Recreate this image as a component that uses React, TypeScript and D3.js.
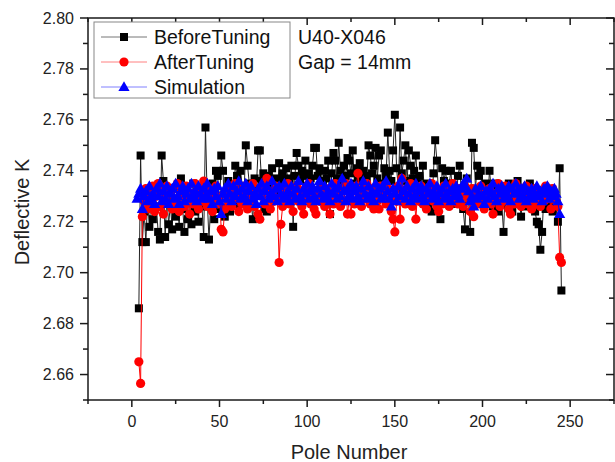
import React from "react";
import * as d3 from "d3";

const beforeStart = 4;
const beforeTuning = [
  2.686, 2.746, 2.712, 2.724, 2.712, 2.729, 2.718, 2.731, 2.721, 2.733,
  2.726, 2.716, 2.713, 2.746, 2.736, 2.714, 2.730, 2.719, 2.727, 2.717,
  2.733, 2.722, 2.729, 2.718, 2.737, 2.725, 2.716, 2.731, 2.721, 2.728,
  2.719, 2.735, 2.724, 2.730, 2.720, 2.733, 2.726, 2.714, 2.757, 2.729,
  2.713, 2.727, 2.735, 2.721, 2.740, 2.738, 2.725, 2.746, 2.740, 2.722,
  2.731, 2.736, 2.724, 2.733, 2.729, 2.742, 2.738, 2.727, 2.740, 2.734,
  2.731, 2.750, 2.742, 2.735, 2.728, 2.721, 2.737, 2.733, 2.748, 2.748,
  2.736, 2.739, 2.725, 2.724, 2.738, 2.735, 2.741, 2.733, 2.737, 2.731,
  2.743, 2.736, 2.739, 2.734, 2.741, 2.737, 2.735, 2.742, 2.718, 2.738,
  2.747, 2.742, 2.736, 2.740, 2.738, 2.744, 2.734, 2.739, 2.737, 2.742,
  2.749, 2.749, 2.738, 2.741, 2.736, 2.735, 2.740, 2.737, 2.744, 2.723,
  2.739, 2.747, 2.744, 2.737, 2.751, 2.740, 2.736, 2.742, 2.738, 2.745,
  2.744, 2.739, 2.748, 2.735, 2.741, 2.737, 2.743, 2.734, 2.740, 2.738,
  2.736, 2.750, 2.746, 2.739, 2.742, 2.749, 2.737, 2.746, 2.748, 2.735,
  2.741, 2.738, 2.755, 2.740, 2.736, 2.748, 2.762, 2.741, 2.733, 2.757,
  2.739, 2.744, 2.750, 2.736, 2.748, 2.742, 2.737, 2.740, 2.746, 2.735,
  2.738, 2.731, 2.742, 2.729, 2.735, 2.727, 2.733, 2.724, 2.739, 2.752,
  2.744, 2.729, 2.721, 2.741, 2.736, 2.740, 2.731, 2.735, 2.740, 2.728,
  2.733, 2.727, 2.738, 2.742, 2.731, 2.725, 2.717, 2.737, 2.729, 2.716,
  2.751, 2.749, 2.733, 2.742, 2.738, 2.740, 2.731, 2.727, 2.735, 2.729,
  2.740, 2.733, 2.726, 2.735, 2.729, 2.724, 2.731, 2.727, 2.716, 2.733,
  2.728, 2.735, 2.730, 2.724, 2.732, 2.727, 2.736, 2.729, 2.722, 2.731,
  2.726, 2.733, 2.729, 2.735, 2.727, 2.732, 2.724, 2.720, 2.719, 2.709,
  2.716, 2.730, 2.725, 2.733, 2.727, 2.731, 2.724, 2.729, 2.726, 2.720, 2.741, 2.693,
];

const afterStart = 4;
const afterTuning = [
  2.665, 2.6565, 2.722, 2.728, 2.733, 2.725, 2.731, 2.727, 2.734, 2.724,
  2.730, 2.735, 2.726, 2.732, 2.723, 2.729, 2.734, 2.727, 2.731, 2.725,
  2.733, 2.728, 2.735, 2.724, 2.730, 2.732, 2.726, 2.734, 2.729, 2.723,
  2.731, 2.727, 2.735, 2.730, 2.725, 2.733, 2.728, 2.736, 2.731, 2.726,
  2.733, 2.729, 2.724, 2.731, 2.734, 2.727, 2.730, 2.717, 2.716, 2.725,
  2.732, 2.728, 2.734, 2.726, 2.731, 2.735, 2.729, 2.724, 2.732, 2.727,
  2.734, 2.730, 2.725, 2.733, 2.728, 2.735, 2.726, 2.731, 2.723, 2.721,
  2.730, 2.734, 2.727, 2.737, 2.732, 2.725, 2.731, 2.728, 2.734, 2.729,
  2.704, 2.719, 2.726, 2.733, 2.729, 2.735, 2.727, 2.731, 2.724, 2.730,
  2.734, 2.728, 2.732, 2.726, 2.723, 2.733, 2.729, 2.735, 2.727, 2.731,
  2.725, 2.723, 2.732, 2.728, 2.734, 2.730, 2.726, 2.733, 2.729, 2.723,
  2.731, 2.727, 2.735, 2.730, 2.733, 2.726, 2.732, 2.728, 2.735, 2.723,
  2.729, 2.723, 2.732, 2.727, 2.734, 2.739, 2.731, 2.726, 2.733, 2.729,
  2.735, 2.730, 2.727, 2.733, 2.725, 2.731, 2.728, 2.725, 2.734, 2.730,
  2.732, 2.727, 2.733, 2.729, 2.724, 2.721, 2.716, 2.728, 2.734, 2.721,
  2.737, 2.731, 2.727, 2.733, 2.729, 2.735, 2.726, 2.730, 2.721, 2.732,
  2.728, 2.734, 2.727, 2.731, 2.725, 2.733, 2.729, 2.735, 2.728, 2.732,
  2.726, 2.724, 2.731, 2.727, 2.734, 2.729, 2.733, 2.726, 2.730, 2.735,
  2.728, 2.732, 2.727, 2.733, 2.730, 2.726, 2.734, 2.732, 2.729, 2.724,
  2.733, 2.722, 2.729, 2.731, 2.727, 2.734, 2.730, 2.725, 2.732, 2.728,
  2.733, 2.727, 2.723, 2.731, 2.729, 2.735, 2.726, 2.732, 2.728, 2.734,
  2.730, 2.725, 2.723, 2.731, 2.727, 2.735, 2.729, 2.733, 2.726, 2.731,
  2.728, 2.734, 2.727, 2.732, 2.725, 2.730, 2.733, 2.727, 2.731, 2.726,
  2.732, 2.728, 2.734, 2.729, 2.731, 2.725, 2.733, 2.730, 2.728, 2.726, 2.706, 2.704,
];

const simStart = 3;
const simulation = [
  2.729, 2.731, 2.733, 2.725, 2.730, 2.732, 2.728, 2.734, 2.729, 2.731,
  2.727, 2.733, 2.730, 2.735, 2.728, 2.732, 2.729, 2.734, 2.727, 2.731,
  2.733, 2.729, 2.735, 2.730, 2.727, 2.732, 2.734, 2.728, 2.731, 2.733,
  2.729, 2.735, 2.730, 2.732, 2.728, 2.734, 2.731, 2.729, 2.733, 2.730,
  2.735, 2.729, 2.732, 2.727, 2.733, 2.730, 2.734, 2.728, 2.723, 2.731,
  2.733, 2.729, 2.735, 2.731, 2.728, 2.734, 2.730, 2.732, 2.736, 2.729,
  2.733, 2.730, 2.735, 2.728, 2.732, 2.734, 2.729, 2.731, 2.727, 2.733,
  2.730, 2.735, 2.728, 2.732, 2.734, 2.729, 2.731, 2.736, 2.730, 2.733,
  2.728, 2.734, 2.731, 2.729, 2.735, 2.730, 2.732, 2.728, 2.734, 2.731,
  2.729, 2.733, 2.736, 2.730, 2.728, 2.733, 2.731, 2.735, 2.729, 2.732,
  2.734, 2.730, 2.728, 2.733, 2.736, 2.731, 2.729, 2.734, 2.730, 2.732,
  2.728, 2.735, 2.731, 2.733, 2.729, 2.734, 2.730, 2.737, 2.732, 2.728,
  2.733, 2.730, 2.735, 2.729, 2.732, 2.734, 2.730, 2.728, 2.733, 2.736,
  2.731, 2.729, 2.734, 2.730, 2.732, 2.728, 2.735, 2.731, 2.733, 2.729,
  2.734, 2.730, 2.736, 2.732, 2.729, 2.726, 2.733, 2.731, 2.728, 2.734,
  2.730, 2.737, 2.732, 2.729, 2.734, 2.731, 2.728, 2.733, 2.730, 2.735,
  2.729, 2.732, 2.734, 2.730, 2.728, 2.733, 2.731, 2.735, 2.729, 2.732,
  2.730, 2.734, 2.728, 2.731, 2.733, 2.729, 2.735, 2.730, 2.732, 2.728,
  2.733, 2.730, 2.734, 2.731, 2.729, 2.733, 2.735, 2.734, 2.737, 2.732,
  2.728, 2.730, 2.726, 2.733, 2.729, 2.731, 2.734, 2.730, 2.727, 2.732,
  2.729, 2.733, 2.731, 2.735, 2.730, 2.728, 2.733, 2.731, 2.734, 2.729,
  2.732, 2.730, 2.734, 2.728, 2.733, 2.731, 2.735, 2.732, 2.729, 2.733,
  2.730, 2.734, 2.728, 2.732, 2.730, 2.733, 2.729, 2.731, 2.734, 2.730,
  2.732, 2.728, 2.733, 2.731, 2.734, 2.729, 2.732, 2.730, 2.733, 2.731, 2.728, 2.723,
];

const xMajorTicks = [0, 50, 100, 150, 200, 250];
const xMinorTicks = [-25, 25, 75, 125, 175, 225, 275];
const yMajorTicks = [2.66, 2.68, 2.7, 2.72, 2.74, 2.76, 2.78, 2.8];
const yMinorTicks = [2.65, 2.67, 2.69, 2.71, 2.73, 2.75, 2.77, 2.79];
const legendLabels = ["BeforeTuning", "AfterTuning", "Simulation"];
const annotations = ["U40-X046", "Gap = 14mm"];
const xTitle = "Pole Number";
const yTitle = "Deflective K";

const FONT = "'Liberation Sans', Arial, Helvetica, sans-serif";

export default function App() {
  const W = 615, H = 462;
  const left = 88, right = 614, top = 18, bottom = 400;
  const x = d3.scaleLinear().domain([-25, 275]).range([left, right]);
  const y = d3.scaleLinear().domain([2.65, 2.8]).range([bottom, top]);

  const toPts = (arr: number[], start: number) => arr.map((v, i) => [start + i, v] as [number, number]);
  const bPts = toPts(beforeTuning, beforeStart);
  const aPts = toPts(afterTuning, afterStart);
  const sPts = toPts(simulation, simStart);
  const line = d3.line<[number, number]>().x(d => x(d[0])).y(d => y(d[1]));

  const sq = 8;
  const cr = 4.6;
  const tri = (cx: number, cy: number) =>
    `M${cx},${cy - 5.8}L${cx + 5.6},${cy + 4}L${cx - 5.6},${cy + 4}Z`;

  const axisColor = "#1a1a1a";

  const legendX = 94, legendY = 22, legendW = 196, legendH = 76;
  const rowY = [37, 62, 87];
  const colors = ["#000000", "#ff0000", "#0000ff"];
  const lineColors = ["#777777", "#ff8080", "#8080ff"];

  return (
    <svg width={W} height={H} style={{ position: "absolute", left: 0, top: 0, background: "#fff" }} fontFamily={FONT}>
      <rect x={0} y={0} width={W} height={H} fill="#fff" />
      <defs>
        <clipPath id="plotClip">
          <rect x={left} y={top} width={right - left} height={bottom - top} />
        </clipPath>
      </defs>

      <g clipPath="url(#plotClip)">
        <path d={line(bPts) || ""} fill="none" stroke="#222" strokeWidth={1} />
        {bPts.map((d, i) => (
          <rect key={"b" + i} x={x(d[0]) - sq / 2} y={y(d[1]) - sq / 2} width={sq} height={sq} fill="#000" />
        ))}
        <path d={line(aPts) || ""} fill="none" stroke="#ff0000" strokeWidth={1} />
        {aPts.map((d, i) => (
          <circle key={"a" + i} cx={x(d[0])} cy={y(d[1])} r={cr} fill="#ff0000" />
        ))}
        <path d={line(sPts) || ""} fill="none" stroke="#0000ff" strokeWidth={1} />
        {sPts.map((d, i) => (
          <path key={"s" + i} d={tri(x(d[0]), y(d[1]))} fill="#0000ff" />
        ))}
      </g>

      {/* frame */}
      <rect x={left} y={top} width={right - left} height={bottom - top} fill="none" stroke={axisColor} strokeWidth={1.5} />

      {/* x ticks */}
      {xMajorTicks.map(t => (
        <g key={"xm" + t}>
          <line x1={x(t)} x2={x(t)} y1={bottom} y2={bottom + 7} stroke={axisColor} strokeWidth={1.5} />
          <line x1={x(t)} x2={x(t)} y1={top} y2={top + 7} stroke={axisColor} strokeWidth={1.5} />
          <text x={x(t)} y={427} fontSize={16} textAnchor="middle" fill="#222">{t}</text>
        </g>
      ))}
      {xMinorTicks.map(t => (
        <g key={"xn" + t}>
          <line x1={x(t)} x2={x(t)} y1={bottom} y2={bottom + 4} stroke={axisColor} strokeWidth={1.5} />
          <line x1={x(t)} x2={x(t)} y1={top} y2={top + 4} stroke={axisColor} strokeWidth={1.5} />
        </g>
      ))}

      {/* y ticks */}
      {yMajorTicks.map(t => (
        <g key={"ym" + t}>
          <line x1={left - 8} x2={left} y1={y(t)} y2={y(t)} stroke={axisColor} strokeWidth={1.5} />
          <line x1={right - 8} x2={right} y1={y(t)} y2={y(t)} stroke={axisColor} strokeWidth={1.5} />
          <text x={74} y={y(t) + 5.5} fontSize={16} textAnchor="end" fill="#222">{t.toFixed(2)}</text>
        </g>
      ))}
      {yMinorTicks.map(t => (
        <g key={"yn" + t}>
          <line x1={left - 5} x2={left} y1={y(t)} y2={y(t)} stroke={axisColor} strokeWidth={1.5} />
          <line x1={right - 5} x2={right} y1={y(t)} y2={y(t)} stroke={axisColor} strokeWidth={1.5} />
        </g>
      ))}

      {/* axis titles */}
      <text x={(left + right) / 2 - 2} y={459} fontSize={20} textAnchor="middle" fill="#222">{xTitle}</text>
      <text transform={`translate(29,${(top + bottom) / 2 + 3}) rotate(-90)`} fontSize={20} textAnchor="middle" fill="#222">{yTitle}</text>

      {/* legend */}
      <rect x={legendX} y={legendY} width={legendW} height={legendH} fill="#fff" stroke="#888" strokeWidth={1} />
      {legendLabels.map((lab, i) => {
        const cy = rowY[i];
        const cx = 124;
        return (
          <g key={"lg" + i}>
            <line x1={101} x2={147} y1={cy} y2={cy} stroke={lineColors[i]} strokeWidth={1} />
            {i === 0 && <rect x={cx - 4} y={cy - 4} width={8} height={8} fill={colors[0]} />}
            {i === 1 && <circle cx={cx} cy={cy} r={4.6} fill={colors[1]} />}
            {i === 2 && <path d={tri(cx, cy)} fill={colors[2]} />}
            <text x={154} y={cy + 7} fontSize={19.5} fill="#111">{lab}</text>
          </g>
        );
      })}

      {annotations.map((a, i) => (
        <text key={"an" + i} x={298} y={rowY[i] + 7} fontSize={19.5} fill="#111">{a}</text>
      ))}
    </svg>
  );
}
